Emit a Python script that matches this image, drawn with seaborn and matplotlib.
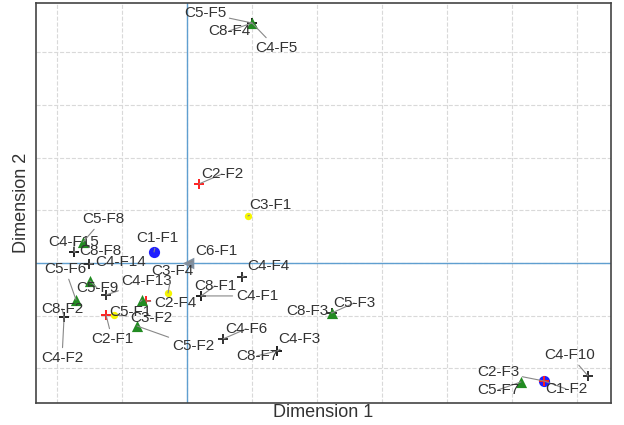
import numpy as np
import pandas as pd
import matplotlib
matplotlib.use("Agg")
import matplotlib.pyplot as plt
import seaborn as sns

# point names and coordinates
names = ["C8-F1", "C8-F2", "C8-F3", "C8-F4", "C8-F7", "C8-F8",
         "C4-F1", "C4-F2", "C4-F3", "C4-F4", "C4-F5", "C4-F6", "C4-F10", "C4-F13", "C4-F14", "C4-F15",
         "C1-F1", "C1-F2",
         "C2-F1", "C2-F2", "C2-F3", "C2-F4",
         "C3-F1", "C3-F2", "C3-F4",
         "C6-F1",
         "C5-F1", "C5-F2", "C5-F3", "C5-F5", "C5-F6", "C5-F7", "C5-F8", "C5-F9"]
dim1 = [0.108, -0.946, 1.115, 0.500, 0.692, -0.869,
        0.108, -0.946, 0.692, 0.423, 0.500, 0.277, 3.085, -0.623, -0.754, -0.869,
        -0.254, 2.746,
        -0.623, 0.092, 2.746, -0.315,
        0.469, -0.562, -0.146,
        0.008,
        -0.346, -0.385, 1.115, 0.500, -0.854, 2.569, -0.800, -0.746]
dim2 = [-0.313, -0.512, -0.474, 2.277, -0.835, 0.104,
        -0.313, -0.512, -0.835, -0.133, 2.277, -0.721, -1.072, -0.304, -0.009, 0.104,
        0.104, -1.120,
        -0.493, 0.750, -1.120, -0.361,
        0.446, -0.493, -0.285,
        0.000,
        -0.351, -0.598, -0.474, 2.277, -0.351, -1.129, 0.199, -0.171]

# where each label text sits (data units)
label_x = [0.215, -0.962, 0.923, 0.323, 0.538, -0.669,
           0.538, -0.962, 0.862, 0.623, 0.685, 0.454, 2.946, -0.308, -0.508, -0.869,
           -0.231, 2.915,
           -0.577, 0.269, 2.392, -0.092,
           0.638, -0.277, -0.115,
           0.223,
           -0.438, 0.046, 1.285, 0.138, -0.938, 2.392, -0.646, -0.692]
label_y = [-0.218, -0.436, -0.455, 2.201, -0.882, 0.114,
           -0.313, -0.901, -0.721, -0.028, 2.040, -0.626, -0.873, -0.171, 0.009, 0.199,
           0.237, -1.195,
           -0.721, 0.844, -1.034, -0.380,
           0.550, -0.522, -0.076,
           0.114,
           -0.465, -0.787, -0.380, 2.372, -0.057, -1.205, 0.417, -0.237]

df = pd.DataFrame({"name": names, "x": dim1, "y": dim2, "lx": label_x, "ly": label_y})
df["group"] = df["name"].str.split("-").str[0]

styles = {
    "C8": dict(marker="+", color="#222222", s=45, linewidth=1.3),
    "C4": dict(marker="+", color="#222222", s=45, linewidth=1.3),
    "C1": dict(marker="o", color="#1f1fff", s=65, linewidth=0),
    "C2": dict(marker="+", color="#ff2020", s=60, linewidth=1.4),
    "C3": dict(marker="o", color="#f5f500", s=28, linewidth=0),
    "C6": dict(marker="<", color="#7f8fa0", s=70, linewidth=0),
    "C5": dict(marker="^", color="#228b22", s=65, linewidth=0),
}

sns.set_style("whitegrid", {"grid.linestyle": "--", "grid.color": "#d9d9d9",
                            "axes.edgecolor": "#444444"})
plt.rcParams["font.family"] = ["Liberation Sans", "DejaVu Sans"]

fig = plt.figure(figsize=(6.24, 4.25), dpi=100)
ax = fig.add_axes([0.0577, 0.052, 0.9215, 0.941])

for g, st in styles.items():
    sub = df[df["group"] == g]
    sns.scatterplot(data=sub, x="x", y="y", ax=ax, legend=False, zorder=3, **st)

# zero lines
ax.axhline(0, color="#5f9fd0", lw=1.0, zorder=2)
ax.axvline(0, color="#5f9fd0", lw=1.0, zorder=2)

for _, r in df.iterrows():
    ax.annotate(r["name"], xy=(r["x"], r["y"]), xytext=(r["lx"], r["ly"]),
                ha="center", va="center", fontsize=11, color="#333333", zorder=4,
                arrowprops=dict(arrowstyle="-", color="#888888", lw=0.8,
                                shrinkA=0, shrinkB=0))

ax.set_xlim(-1.162, 3.262)
ax.set_ylim(-1.328, 2.467)
ax.set_xticks(np.arange(-1, 3.01, 0.5))
ax.set_yticks(np.arange(-1, 2.01, 0.5))
ax.set_xticklabels([])
ax.set_yticklabels([])
ax.tick_params(length=0, pad=0)
ax.grid(True, lw=0.8)
for sp in ax.spines.values():
    sp.set_linewidth(1.2)
ax.set_xlabel("Dimension 1", fontsize=13, color="#333333", labelpad=1)
ax.set_ylabel("Dimension 2", fontsize=13, color="#333333", labelpad=4)

fig.savefig("out.png", dpi=100)
